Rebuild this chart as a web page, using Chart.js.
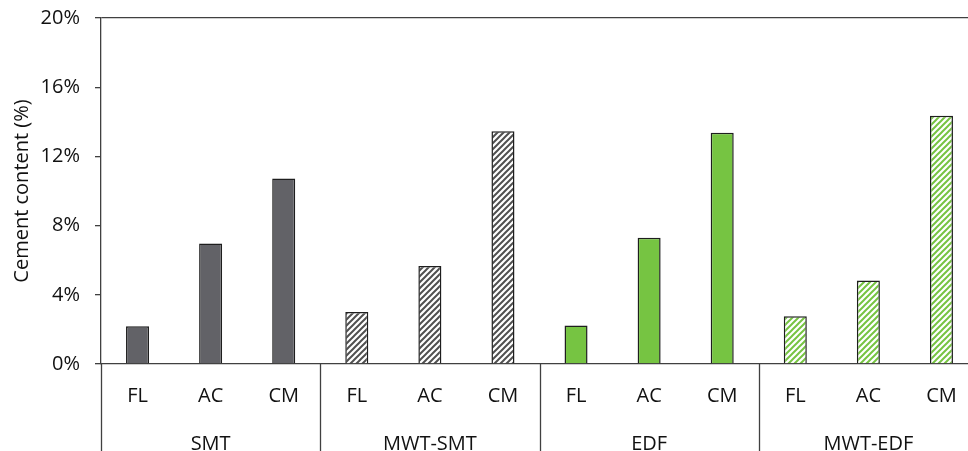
<!DOCTYPE html>
<html>
<head>
<meta charset="utf-8">
<script src="https://cdn.jsdelivr.net/npm/chart.js@4.4.0/dist/chart.umd.min.js"></script>
<style>
  html, body { margin: 0; padding: 0; background: #fff; overflow: hidden; }
  #wrap { width: 980px; height: 451px; position: relative; }
</style>
</head>
<body>
<div id="wrap"><canvas id="c"></canvas></div>
<script>
// ---- data ----
const categories = ['FL','AC','CM','FL','AC','CM','FL','AC','CM','FL','AC','CM'];
const groups = ['SMT','MWT-SMT','EDF','MWT-EDF'];
const cementContent = [2.18, 6.96, 10.72, 3.01, 5.66, 13.45, 2.22, 7.30, 13.37, 2.76, 4.83, 14.35];
const yTicks = [0, 4, 8, 12, 16, 20];

// ---- styles ----
const FONT = '"Open Sans", "Noto Sans", sans-serif';
const TEXT = '#111111';
const AXIS = '#404040';

function hatch(color) {
  const s = 6;
  const c = document.createElement('canvas');
  c.width = s; c.height = s;
  const g = c.getContext('2d');
  g.fillStyle = '#ffffff';
  g.fillRect(0, 0, s, s);
  g.strokeStyle = color;
  g.lineWidth = 2;
  g.beginPath();
  g.moveTo(0, s); g.lineTo(s, 0);
  g.moveTo(-2, 2); g.lineTo(2, -2);
  g.moveTo(s - 2, s + 2); g.lineTo(s + 2, s - 2);
  g.stroke();
  return g.createPattern(c, 'repeat');
}
const ctx = document.getElementById('c').getContext('2d');
const solidGray = '#626267';
const solidGreen = '#76C442';
const hatchGray = hatch('#505050');
const hatchGreen = hatch('#76C442');
const groupFills = [solidGray, hatchGray, solidGreen, hatchGreen];
const fills = categories.map((_, i) => groupFills[Math.floor(i / 3)]);

const separators = {
  id: 'separators',
  afterDraw(chart) {
    const xs = chart.scales.x;
    const half = (xs.getPixelForValue(1) - xs.getPixelForValue(0)) / 2;
    const c = chart.ctx;
    c.save();
    c.strokeStyle = AXIS;
    c.lineWidth = 1.3;
    c.beginPath();
    for (let g = 0; g <= groups.length; g++) {
      const x = Math.round(xs.getPixelForValue(g * 3) - half) + 0.5;
      c.moveTo(x, chart.chartArea.bottom);
      c.lineTo(x, chart.height);
    }
    c.stroke();
    c.restore();
  }
};

new Chart(ctx, {
  type: 'bar',
  data: {
    labels: categories,
    datasets: [{
      data: cementContent,
      backgroundColor: fills,
      borderColor: '#1e1e1e',
      borderWidth: 1.5,
      barPercentage: 0.315,
      categoryPercentage: 1.0,
      xAxisID: 'x',
      yAxisID: 'y'
    }]
  },
  options: {
    responsive: true,
    maintainAspectRatio: false,
    animation: false,
    layout: { padding: { top: 18, right: 2, bottom: 0, left: 0 } },
    plugins: { legend: { display: false }, tooltip: { enabled: false } },
    scales: {
      y: {
        min: 0, max: 20,
        afterBuildTicks: (s) => { s.ticks = yTicks.map(v => ({ value: v })); },
        afterFit: (s) => { s.width = 101; s.paddingTop = 0; s.paddingBottom = 0; },
        ticks: {
          callback: (v) => v + '%',
          color: TEXT,
          font: { family: FONT, size: 20 },
          padding: 15
        },
        grid: {
          color: (c) => (c.tick && c.tick.value === 20) ? AXIS : 'transparent',
          tickColor: AXIS,
          tickLength: 6,
          lineWidth: 1.3
        },
        border: { display: true, color: AXIS, width: 1.3 },
        title: {
          display: true,
          text: 'Cement content (%)',
          color: TEXT,
          font: { family: FONT, size: 20 },
          padding: { top: 10, bottom: 0 }
        }
      },
      x: {
        position: 'bottom',
        afterFit: (s) => { s.height = 52; s.paddingLeft = 0; s.paddingRight = 0; },
        grid: { display: false },
        border: { display: true, color: AXIS, width: 1.3 },
        ticks: {
          color: TEXT,
          font: { family: FONT, size: 20 },
          padding: 12,
          maxRotation: 0,
          autoSkip: false
        }
      },
      x2: {
        type: 'category',
        labels: groups,
        position: 'bottom',
        afterFit: (s) => { s.height = 35; s.paddingLeft = 0; s.paddingRight = 0; },
        grid: { display: false },
        border: { display: false },
        ticks: {
          color: TEXT,
          font: { family: FONT, size: 20 },
          padding: 8,
          maxRotation: 0,
          autoSkip: false
        }
      }
    }
  },
  plugins: [separators]
});
</script>
</body>
</html>
